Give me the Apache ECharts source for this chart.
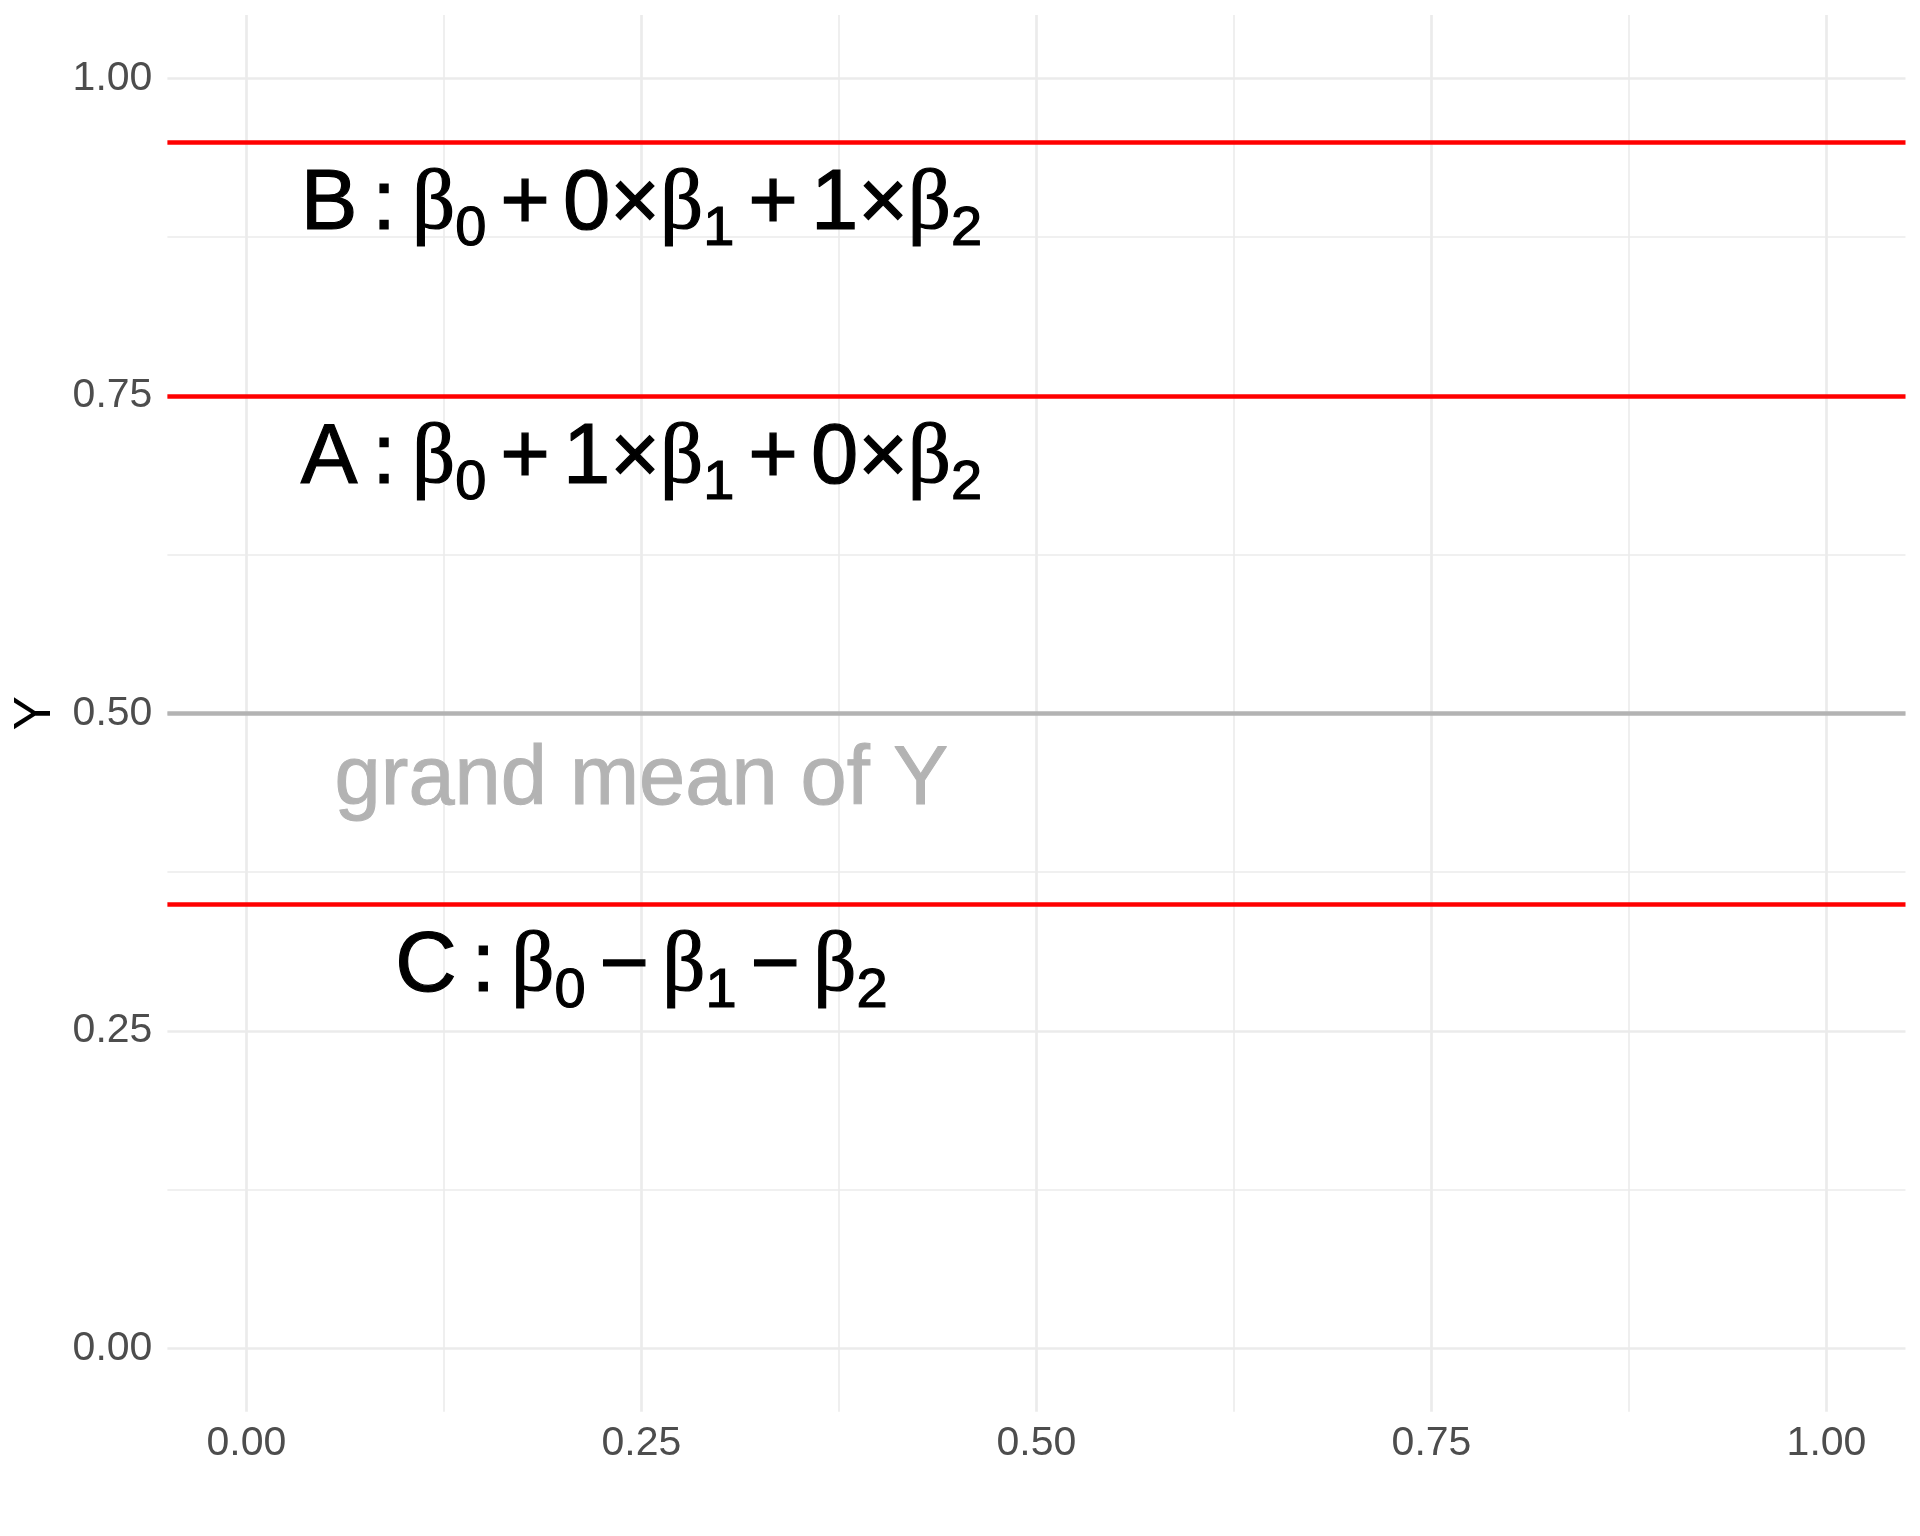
<!DOCTYPE html>
<html>
<head>
<meta charset="utf-8">
<script src="https://cdn.jsdelivr.net/npm/echarts@6/dist/echarts.min.js"></script>
<style>html,body{margin:0;padding:0;background:#fff}#c{width:1920px;height:1536px}</style>
</head>
<body>
<div id="c"></div>
<script>
// ---- data ----
const xTicks = [0, 0.25, 0.5, 0.75, 1];
const yTicks = [0, 0.25, 0.5, 0.75, 1];
const minorTicks = [0.125, 0.375, 0.625, 0.875];
const groupNames = ['B', 'A', 'C'];
const groupLines = [0.95, 0.75, 0.35];
const grandMean = 0.5;
const labelX = [0.25, 0.25, 0.25];
const labelY = [0.90, 0.70, 0.30];
const groupLabels = [
  '{t|B}{c|:}{b|β}{s|0}{op|+}{t|0×}{b|β}{s|1}{op|+}{t|1×}{b|β}{s|2}',
  '{t|A}{c|:}{b|β}{s|0}{op|+}{t|1×}{b|β}{s|1}{op|+}{t|0×}{b|β}{s|2}',
  '{t|C}{c|:}{b|β}{s|0}{op|−}{b|β}{s|1}{op|−}{b|β}{s|2}'
];
const meanLabelText = 'grand mean of Y';
const meanLabelX = 0.25;
const meanLabelY = 0.45;

// ---- styles ----
const SANS = '"Liberation Sans", Arial, sans-serif';
const SERIF = '"Liberation Serif", "Times New Roman", serif';
const MAIN = 85;
const ink = {color: '#000', textBorderColor: '#000', textBorderWidth: 1.2, opacity: 1};
const rich = {
  t: Object.assign({fontFamily: SANS, fontSize: MAIN}, ink),
  c: Object.assign({fontFamily: SANS, fontSize: MAIN, padding: [0, 16, 0, 15]}, ink),
  op: Object.assign({fontFamily: SANS, fontSize: MAIN, padding: [0, 13, 0, 14]}, ink),
  b: Object.assign({fontFamily: SERIF, fontSize: MAIN}, ink),
  s: Object.assign({fontFamily: SANS, fontSize: 56, padding: [49, 0, 0, 0]}, ink)
};

const chart = echarts.init(document.getElementById('c'), null, {renderer: 'canvas'});
const gridColor = '#ebebeb';
const fmt = v => Number(v).toFixed(2);

function lines(name, z, values, style) {
  return {
    name: name, type: 'scatter', data: [], z: z, silent: true,
    markLine: {
      silent: true, symbol: ['none', 'none'], label: {show: false}, precision: 6,
      lineStyle: Object.assign({type: 'solid', opacity: 1}, style),
      emphasis: {disabled: true},
      data: values
    }
  };
}

chart.setOption({
  animation: false,
  backgroundColor: '#fff',
  grid: {left: 167.4, right: 14.5, top: 14.9, bottom: 124.2, containLabel: false},
  xAxis: {
    type: 'value', min: -0.05, max: 1.05,
    axisLine: {show: false}, axisTick: {show: false}, splitLine: {show: false},
    axisLabel: {customValues: xTicks, formatter: fmt, fontFamily: SANS, fontSize: 41, color: '#4d4d4d', margin: 11}
  },
  yAxis: {
    type: 'value', min: -0.05, max: 1.05,
    name: 'Y', nameLocation: 'middle', nameRotate: 90, nameGap: 105,
    nameTextStyle: {fontFamily: SANS, fontSize: 51, color: '#000'},
    axisLine: {show: false}, axisTick: {show: false}, splitLine: {show: false},
    axisLabel: {customValues: yTicks, formatter: fmt, fontFamily: SANS, fontSize: 41, color: '#4d4d4d', margin: 15}
  },
  series: [
    lines('minorGrid', 1,
      minorTicks.map(v => ({xAxis: v})).concat(minorTicks.map(v => ({yAxis: v}))),
      {color: gridColor, width: 1.6}),
    lines('majorGrid', 2,
      xTicks.map(v => ({xAxis: v})).concat(yTicks.map(v => ({yAxis: v}))),
      {color: gridColor, width: 2.7}),
    lines('grandMean', 3, [{yAxis: grandMean}], {color: '#b3b3b3', width: 4.5}),
    lines('groupMeans', 4, groupLines.map(v => ({yAxis: v})), {color: '#ff0000', width: 4.5}),
    {
      name: 'labels', type: 'scatter', z: 5, silent: true, symbolSize: 0,
      itemStyle: {opacity: 1},
      data: groupNames.map((g, i) => ({value: [labelX[i], labelY[i]], name: g})),
      label: {
        show: true, position: [0, 0], align: 'center', verticalAlign: 'middle',
        color: '#000', opacity: 1,
        formatter: p => groupLabels[p.dataIndex],
        rich: rich
      }
    },
    {
      name: 'meanLabel', type: 'scatter', z: 5, silent: true, symbolSize: 0,
      itemStyle: {opacity: 1},
      data: [{value: [meanLabelX, meanLabelY], name: meanLabelText}],
      label: {
        show: true, position: [0, 0], align: 'center', verticalAlign: 'middle',
        offset: [0, 4], opacity: 1,
        color: '#b3b3b3', textBorderColor: '#b3b3b3', textBorderWidth: 1,
        fontFamily: SANS, fontSize: 83,
        formatter: () => meanLabelText
      }
    }
  ]
});
</script>
</body>
</html>
